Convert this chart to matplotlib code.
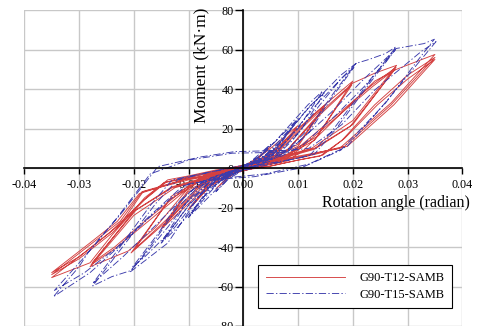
import matplotlib
matplotlib.use('Agg')
import matplotlib.pyplot as plt
import numpy as np

# hysteresis loops: (rotation [rad], moment [kN.m]) per cycle
t12_loops = [
    [(0.000, 0.0), (0.0025, 5.0), (0.005, 11.0), (0.003, 5.5), (0.000, 1.0), (-0.0025, -4.5),
     (-0.005, -10.5), (-0.003, -5.0), (0.000, -0.5)],
    [(0.000, -0.5), (0.005, 10), (0.010, 21.5), (0.0065, 10), (0.002, 3), (-0.002, -1), (-0.006, -9),
     (-0.010, -21), (-0.0065, -10), (-0.002, -3), (0.002, 0.5)],
    [(0.002, 0.5), (0.006, 10), (0.0098, 20), (0.0065, 9), (0.002, 2.5), (-0.002, -1.5), (-0.006, -9),
     (-0.0098, -20), (-0.0065, -9), (-0.002, -2.5), (0.001, 0)],
    [(0.001, 0), (0.005, 7), (0.010, 20), (0.015, 32), (0.010, 12), (0.004, 4), (-0.002, 0), (-0.005, -5),
     (-0.010, -18), (-0.015, -31), (-0.010, -12), (-0.004, -4), (0.002, 0)],
    [(0.002, 0), (0.006, 7), (0.011, 21), (0.0148, 31), (0.010, 11), (0.004, 3.5), (-0.002, -0.5),
     (-0.006, -6), (-0.011, -19), (-0.0148, -30), (-0.010, -11), (-0.004, -3.5), (0.002, 0.5)],
    [(0.002, 0.5), (0.006, 8), (0.0136, 29), (0.020, 44), (0.0135, 16), (0.008, 7), (0.002, 2.5),
     (-0.004, -1.5), (-0.007, -7), (-0.014, -27), (-0.0205, -43), (-0.0135, -16), (-0.008, -7),
     (-0.002, -2.5), (0.004, 1.5)],
    [(0.004, 1.5), (0.008, 9), (0.014, 27), (0.0198, 42), (0.013, 14), (0.008, 6.5), (0.002, 2),
     (-0.004, -2), (-0.008, -9), (-0.014, -26), (-0.0198, -41), (-0.013, -14), (-0.008, -6.5),
     (-0.002, -2), (0.004, 1.5)],
    [(0.004, 1.5), (0.008, 9), (0.014, 28), (0.020, 43), (0.024, 48), (0.028, 52), (0.020, 24),
     (0.0125, 10), (0.006, 5), (0.000, 1.5), (-0.006, -3), (-0.010, -10), (-0.016, -30), (-0.021, -42),
     (-0.028, -50), (-0.020, -24), (-0.0125, -10), (-0.006, -5), (0.000, -1.5), (0.006, 3)],
    [(0.006, 3), (0.0095, 9), (0.0178, 28.5), (0.0235, 42), (0.0279, 51), (0.020, 22), (0.013, 10),
     (0.006, 4.5), (0.000, 1), (-0.006, -3), (-0.0095, -9), (-0.0178, -28), (-0.0235, -41),
     (-0.0278, -49), (-0.020, -22), (-0.013, -10), (-0.006, -4.5), (0.000, -1), (0.007, 3)],
    [(0.007, 3), (0.010, 9), (0.018, 28), (0.0235, 41), (0.0277, 50), (0.0195, 21), (0.013, 9.5),
     (0.006, 4), (0.000, 0.5), (-0.007, -3.5), (-0.010, -9), (-0.018, -27), (-0.0235, -40),
     (-0.0276, -48), (-0.0195, -21), (-0.013, -9.5), (-0.006, -4), (0.000, -0.5), (0.008, 3.5)],
    [(0.008, 3.5), (0.011, 9), (0.018, 28), (0.024, 44), (0.028, 50), (0.035, 57.5), (0.027, 33),
     (0.0176, 10), (0.010, 6), (0.003, 2.5), (-0.005, -1), (-0.010, -4), (-0.0138, -6), (-0.018, -15),
     (-0.024, -34), (-0.028, -48), (-0.035, -55.5), (-0.0284, -41.5), (-0.0223, -28), (-0.0183, -12),
     (-0.010, -6), (-0.003, -2.5), (0.005, 1), (0.010, 4), (0.014, 6)],
    [(0.014, 6), (0.018, 14), (0.024, 32), (0.030, 47), (0.035, 56), (0.027, 32), (0.0185, 11),
     (0.011, 6), (0.003, 2), (-0.005, -1.5), (-0.010, -4.5), (-0.014, -7), (-0.018, -16), (-0.024, -33),
     (-0.030, -46), (-0.035, -54), (-0.0285, -40), (-0.0225, -27), (-0.0185, -12), (-0.011, -6),
     (-0.003, -2), (0.005, 1), (0.010, 4), (0.0145, 6.5)],
    [(0.0145, 6.5), (0.0185, 15), (0.0245, 32), (0.030, 45), (0.035, 55), (0.0275, 32), (0.019, 11),
     (0.011, 5.5), (0.003, 1.5), (-0.005, -2), (-0.010, -5), (-0.0145, -7.5), (-0.0185, -17),
     (-0.0245, -33), (-0.030, -45), (-0.035, -53), (-0.0285, -39), (-0.023, -27), (-0.019, -13),
     (-0.011, -6), (-0.003, -2), (0.002, 0)],
]

t15_loops = [
    [(0.000, 0.0), (0.0025, 6), (0.005, 12), (0.003, 6), (0.000, 1), (-0.0025, -5), (-0.005, -12),
     (-0.003, -6), (0.000, -1)],
    [(0.000, -1), (0.005, 11), (0.010, 25), (0.006, 10), (0.002, 3), (-0.002, -2), (-0.005, -11),
     (-0.010, -25), (-0.006, -10), (-0.002, -3), (0.002, 1)],
    [(0.002, 1), (0.006, 12), (0.0098, 24), (0.006, 9), (0.001, 2), (-0.003, -3), (-0.006, -12),
     (-0.0098, -24), (-0.006, -9), (-0.001, -2), (0.001, 0)],
    [(0.001, 0), (0.006, 14), (0.0118, 32), (0.0145, 39), (0.010, 20), (0.006, 8), (0.001, 2),
     (-0.003, -3), (-0.007, -14), (-0.012, -30), (-0.015, -38), (-0.010, -19), (-0.006, -8),
     (-0.001, -2), (0.002, 0)],
    [(0.002, 0), (0.007, 14), (0.012, 31), (0.0148, 38), (0.0105, 19), (0.0065, 8), (0.001, 1.5),
     (-0.004, -3.5), (-0.008, -14), (-0.0125, -30), (-0.0148, -37), (-0.0105, -18), (-0.0065, -8),
     (-0.001, -1.5), (0.003, 1)],
    [(0.003, 1), (0.007, 14), (0.0118, 30), (0.0178, 47), (0.0206, 53), (0.0165, 38), (0.012, 20),
     (0.008, 9), (0.002, 3), (-0.004, -4), (-0.008, -14), (-0.0138, -38), (-0.018, -47),
     (-0.0206, -52.5), (-0.016, -36), (-0.012, -20), (-0.008, -9), (-0.002, -3), (0.004, 3)],
    [(0.004, 3), (0.008, 14), (0.013, 31), (0.0178, 45), (0.0202, 51), (0.016, 35), (0.012, 18),
     (0.008, 8), (0.002, 2.5), (-0.005, -4), (-0.009, -15), (-0.014, -34), (-0.018, -45),
     (-0.0202, -50), (-0.0155, -33), (-0.012, -18), (-0.008, -8), (-0.002, -2.5), (0.005, 3.5)],
    [(0.005, 3.5), (0.009, 14), (0.014, 32), (0.0178, 45), (0.0206, 53), (0.023, 55), (0.026, 58),
     (0.0279, 61.4), (0.022, 40), (0.016, 18), (0.012, 6), (0.006, 3), (0.000, 0), (-0.006, -5),
     (-0.010, -16), (-0.0138, -30), (-0.018, -44), (-0.0206, -52), (-0.024, -55), (-0.0275, -59.7),
     (-0.0215, -38), (-0.016, -18), (-0.012, -6), (-0.006, -2), (0.000, 1), (0.006, 5)],
    [(0.006, 5), (0.010, 13), (0.016, 28), (0.022, 45), (0.0278, 60), (0.022, 39), (0.017, 20),
     (0.013, 7), (0.006, 2.5), (0.000, -1), (-0.007, -6), (-0.011, -15), (-0.016, -29), (-0.022, -45),
     (-0.0275, -58.5), (-0.022, -38), (-0.017, -19), (-0.013, -6), (-0.006, -2), (0.000, 1.5),
     (0.007, 6)],
    [(0.007, 6), (0.011, 12), (0.017, 27), (0.022, 41), (0.026, 54), (0.0279, 60.5), (0.031, 62),
     (0.033, 63), (0.0349, 65.2), (0.032, 55), (0.026, 33), (0.0178, 9), (0.0105, 0), (0.002, -4.4),
     (-0.006, -6), (-0.010, -8), (-0.016, -22), (-0.022, -38), (-0.028, -53), (-0.0347, -65.2),
     (-0.030, -50), (-0.0284, -43), (-0.022, -22), (-0.0156, 0.7), (-0.008, 5.5), (-0.0016, 8.3),
     (0.0087, 9), (0.012, 10)],
    [(0.012, 10), (0.018, 22), (0.024, 39.5), (0.0325, 59), (0.0352, 64), (0.031, 50), (0.025, 30),
     (0.019, 11), (0.012, 2), (0.004, -3), (-0.005, -5.5), (-0.011, -9), (-0.017, -24), (-0.023, -40),
     (-0.029, -53), (-0.0345, -62), (-0.029, -45), (-0.023, -25), (-0.017, -3), (-0.010, 4),
     (-0.002, 7.5), (0.008, 8)],
]

x_ticks = [-0.04, -0.03, -0.02, -0.01, 0.0, 0.01, 0.02, 0.03, 0.04]
x_tick_labels = ['-0.04', '-0.03', '-0.02', '-0.01', '0.00', '0.01', '0.02', '0.03', '0.04']
y_ticks = [-80, -60, -40, -20, 0, 20, 40, 60, 80]
y_tick_labels = ['-80', '-60', '-40', '-20', '0', '20', '40', '60', '80']

plt.rcParams['font.family'] = ['Liberation Serif', 'DejaVu Serif']

fig = plt.figure(figsize=(4.78, 3.26), dpi=100)
ax = fig.add_axes([0.0508, 0.0, 0.9164, 0.9693])

t12 = np.array([p for loop in t12_loops for p in loop])
t15 = np.array([p for loop in t15_loops for p in loop])

ax.plot(t12[:, 0], t12[:, 1], color='#d44040', lw=0.65, label='G90-T12-SAMB')
ax.plot(t15[:, 0], t15[:, 1], color='#3c3cac', lw=0.65, dashes=(8, 2.5, 1.5, 2.5),
        label='G90-T15-SAMB')

ax.set_xlim(-0.04, 0.04)
ax.set_ylim(-80, 80)
ax.set_xticks(x_ticks)
ax.set_xticklabels(x_tick_labels)
ax.set_yticks(y_ticks)
ax.set_yticklabels(y_tick_labels)

ax.spines['left'].set_position(('data', 0))
ax.spines['bottom'].set_position(('data', 0))
ax.spines['top'].set_visible(False)
ax.spines['right'].set_visible(False)
for s in ['left', 'bottom']:
    ax.spines[s].set_linewidth(1.2)
    ax.spines[s].set_zorder(3)

ax.grid(True, color='#c8c8c8', lw=1.0)
ax.set_axisbelow(True)
ax.tick_params(axis='x', direction='out', length=4, width=1, labelsize=8.7, pad=4)
ax.tick_params(axis='y', direction='out', length=6, width=1, labelsize=8.7, pad=1)
for lab in ax.get_xticklabels() + ax.get_yticklabels():
    lab.set_clip_on(False)

fig.text(0.4215, 1 - 65 / 326, 'Moment (kN·m)', rotation=90, fontsize=12.5,
         ha='center', va='center')
fig.text(395.7 / 478, 1 - 203 / 326, 'Rotation angle (radian)', fontsize=11.5,
         ha='center', va='center')

leg = ax.legend(loc='lower right', bbox_to_anchor=(452 / 478, 18 / 326),
                bbox_transform=fig.transFigure, fontsize=9, fancybox=False,
                framealpha=1, edgecolor='black', handlelength=6.3, handletextpad=1.2,
                borderpad=0.6, labelspacing=0.35, borderaxespad=0)
leg.get_frame().set_linewidth(0.8)

fig.savefig('out.png', dpi=100)
